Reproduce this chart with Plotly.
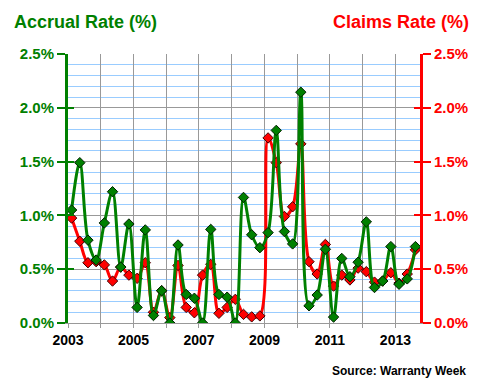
import plotly.graph_objects as go

# Quarterly data, Q1 2003 .. Q3 2013
years = [y for y in range(2003, 2014) for _ in range(4)][:43]
quarters = ([1, 2, 3, 4] * 11)[:43]

accrual = [1.05, 1.49, 0.77, 0.585, 0.93, 1.22, 0.52, 0.92, 0.145, 0.865, 0.07,
           0.30, 0.0, 0.725, 0.265, 0.23, 0.0, 0.87, 0.265, 0.24, 0.0, 1.167,
           0.82, 0.70, 0.84, 1.79, 0.85, 0.735, 2.145, 0.16, 0.26, 0.685, 0.055,
           0.60, 0.43, 0.565, 0.94, 0.33, 0.39, 0.71, 0.36, 0.41, 0.71]
claims = [0.975, 0.76, 0.56, 0.57, 0.54, 0.39, 0.52, 0.445, 0.415, 0.56, 0.10,
          0.30, 0.05, 0.535, 0.145, 0.095, 0.445, 0.545, 0.09, 0.145, 0.22, 0.08,
          0.057, 0.066, 1.72, 1.49, 0.99, 1.08, 1.665, 0.57, 0.455, 0.73, 0.343,
          0.445, 0.40, 0.51, 0.477, 0.38, 0.39, 0.467, 0.37, 0.455, 0.68]

x_ticks = list(range(2003, 2014))
x_labels = [str(y) if y % 2 == 1 else "" for y in x_ticks]

# quarter position on a decimal-year axis
xpos = [y + (q - 1) / 4 + 0.11 for y, q in zip(years, quarters)]

GREEN = "#008000"
RED = "#FF0000"
FONT = "Liberation Sans, Arial, sans-serif"

fig = go.Figure()
fig.add_trace(go.Scatter(
    x=xpos, y=claims, mode="lines+markers", name="Claims Rate",
    line=dict(color=RED, width=3, shape="spline", smoothing=1),
    marker=dict(symbol="diamond", size=8, color=RED, line=dict(color="#400000", width=1)),
    yaxis="y", showlegend=False))
fig.add_trace(go.Scatter(
    x=xpos, y=accrual, mode="lines+markers", name="Accrual Rate",
    line=dict(color=GREEN, width=3, shape="spline", smoothing=1),
    marker=dict(symbol="diamond", size=8, color=GREEN, line=dict(color="#002000", width=1)),
    yaxis="y", showlegend=False))

yrange = [0, 2.5]
common_y = dict(range=yrange, dtick=0.5, tick0=0, fixedrange=True)

fig.update_layout(
    width=472, height=372,
    margin=dict(l=53, r=59, t=46, b=57),
    paper_bgcolor="white", plot_bgcolor="white",
    font=dict(family=FONT, size=14, color="black"),
    xaxis=dict(range=[2003, 2013.75], tickvals=x_ticks, ticktext=x_labels,
               showgrid=True, gridcolor="#999999", gridwidth=1,
               ticks="outside", ticklen=4, tickcolor="#999999",
               showline=True, linecolor="#999999", linewidth=1,
               zeroline=False,
               tickfont=dict(family=FONT, size=14, color="black", weight="bold")),
    yaxis=dict(**common_y, showgrid=True, gridcolor="#999999", gridwidth=1,
               minor=dict(dtick=0.1, showgrid=True, gridcolor="#99CCFF", gridwidth=1),
               showline=True, linecolor=GREEN, linewidth=3,
               ticks="outside", ticklen=8, tickwidth=2, tickcolor=GREEN,
               ticksuffix="%", tickformat=".1f", zeroline=False,
               tickfont=dict(family=FONT, size=15, color=GREEN, weight="bold")),
    yaxis2=dict(**common_y, overlaying="y", side="right", anchor="x",
                showgrid=False, showline=True, linecolor=RED, linewidth=3,
                ticks="outside", ticklen=8, tickwidth=2, tickcolor=RED,
                ticksuffix="%", tickformat=".1f", zeroline=False,
                tickfont=dict(family=FONT, size=15, color=RED, weight="bold")),
    yaxis3=dict(**common_y, overlaying="y", side="left", anchor="x",
                showgrid=False, showline=False, showticklabels=False,
                ticks="inside", ticklen=6, tickwidth=2, tickcolor=GREEN, zeroline=False),
    yaxis4=dict(**common_y, overlaying="y", side="right", anchor="x",
                showgrid=False, showline=False, showticklabels=False,
                ticks="inside", ticklen=6, tickwidth=2, tickcolor=RED, zeroline=False),
    annotations=[
        dict(text="<b>Accrual Rate (%)</b>", xref="paper", yref="paper",
             x=-0.158, y=1.12, xanchor="left", yanchor="middle", showarrow=False,
             font=dict(family=FONT, size=18, color=GREEN)),
        dict(text="<b>Claims Rate (%)</b>", xref="paper", yref="paper",
             x=1.145, y=1.12, xanchor="right", yanchor="middle", showarrow=False,
             font=dict(family=FONT, size=18, color=RED)),
        dict(text="<b>Source: Warranty Week</b>", xref="paper", yref="paper",
             x=1.136, y=-0.18, xanchor="right", yanchor="middle", showarrow=False,
             font=dict(family=FONT, size=12, color="black")),
    ],
)

# empty helper traces so the extra axes are drawn
for ax in ["y2", "y3", "y4"]:
    fig.add_trace(go.Scatter(x=[None], y=[None], yaxis=ax, showlegend=False,
                             hoverinfo="skip", mode="markers"))

fig.write_html("out.html")
